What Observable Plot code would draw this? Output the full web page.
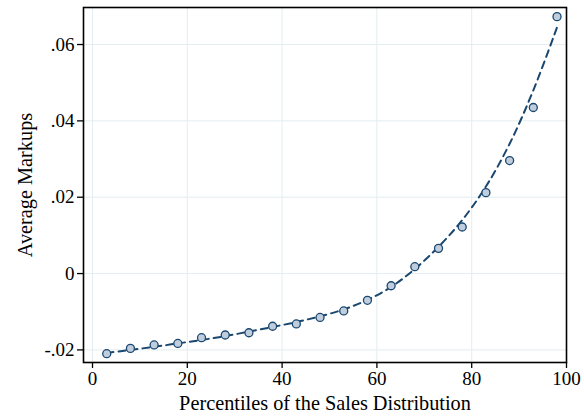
<!DOCTYPE html>
<html>
<head>
<meta charset="utf-8">
<script src="https://cdn.jsdelivr.net/npm/d3@7"></script>
<script src="https://cdn.jsdelivr.net/npm/@observablehq/plot@0.6"></script>
<style>
  html, body { margin: 0; padding: 0; background: #ffffff; }
  #chart { width: 584px; height: 420px; }
</style>
</head>
<body>
<div id="chart"></div>
<script>
// Percentile bins (midpoints)
const percentiles = [3, 8, 13, 18, 23, 28, 33, 38, 43, 48, 53, 58, 63, 68, 73, 78, 83, 88, 93, 98];
// Average markups (scatter points)
const markups = [-0.0210, -0.0196, -0.0187, -0.0183, -0.0168, -0.0161, -0.0155, -0.0138, -0.0132, -0.0115,
                 -0.0098, -0.0070, -0.0032, 0.0018, 0.0066, 0.0122, 0.0212, 0.0296, 0.0435, 0.0673];
// Fitted (dashed) curve, read at the same percentiles
const fitted = [-0.0208, -0.0200, -0.0192, -0.0183, -0.0174, -0.0164, -0.0152, -0.0140, -0.0127, -0.0112,
                -0.0094, -0.0069, -0.0035, 0.0012, 0.0070, 0.0140, 0.0228, 0.0340, 0.0480, 0.0645];

const xTicks = [0, 20, 40, 60, 80, 100];
const xTickLabels = ["0", "20", "40", "60", "80", "100"];
const yTicks = [-0.02, 0, 0.02, 0.04, 0.06];
const yTickLabels = ["-.02", "0", ".02", ".04", ".06"];

const xLabel = "Percentiles of the Sales Distribution";
const yLabel = "Average Markups";

const points = percentiles.map((p, i) => ({x: p, y: markups[i]}));
const fit = percentiles.map((p, i) => ({x: p, y: fitted[i]}));

const navy = "#1a476f";
const tickFont = 19;
const labelFont = 20.3;

const chart = Plot.plot({
  width: 584,
  height: 420,
  marginLeft: 83,
  marginRight: 18,
  marginTop: 7,
  marginBottom: 58,
  style: {fontFamily: "'Liberation Serif', 'Times New Roman', serif", fontSize: tickFont + "px", background: "#ffffff", color: "#000"},
  x: {domain: [-1.9, 100]},
  y: {domain: [-0.0233, 0.0697]},
  marks: [
    Plot.gridX(xTicks, {stroke: "#e4edf0", strokeOpacity: 1, strokeWidth: 1}),
    Plot.gridY(yTicks, {stroke: "#e4edf0", strokeOpacity: 1, strokeWidth: 1}),
    Plot.line(fit, {x: "x", y: "y", stroke: navy, strokeWidth: 2, strokeDasharray: "7,5", curve: "catmull-rom"}),
    Plot.dot(points, {x: "x", y: "y", r: 4, fill: "#bfcddd", stroke: navy, strokeWidth: 1.3}),
    Plot.frame({stroke: "#000", strokeWidth: 1.6}),
    Plot.axisX(xTicks, {
      tickSize: 6, tickPadding: 3, stroke: "#000", strokeWidth: 1.3,
      tickFormat: (d, i) => xTickLabels[i],
      label: null, fontSize: tickFont
    }),
    Plot.axisX([], {
      label: xLabel, labelAnchor: "center", labelArrow: "none", labelOffset: 47,
      fontSize: labelFont
    }),
    Plot.axisY(yTicks, {
      tickSize: 6, tickPadding: 3, stroke: "#000", strokeWidth: 1.3,
      tickFormat: (d, i) => yTickLabels[i],
      label: null, fontSize: tickFont
    }),
    Plot.axisY([], {
      label: yLabel, labelAnchor: "center", labelArrow: "none", labelOffset: 66,
      fontSize: labelFont
    })
  ]
});
document.getElementById("chart").appendChild(chart);
</script>
</body>
</html>
